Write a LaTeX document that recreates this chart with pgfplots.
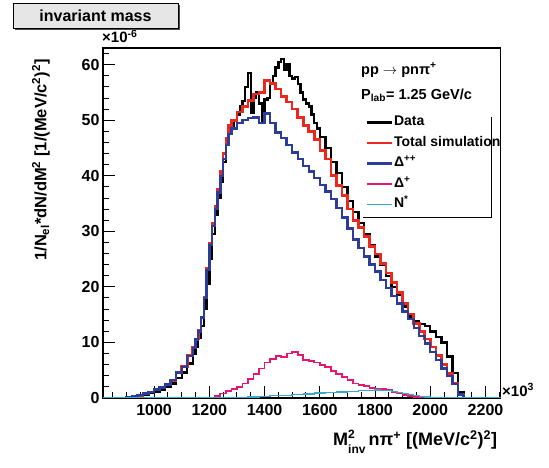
\documentclass[border=0pt]{standalone}
\usepackage{pgfplots}
\pgfplotsset{compat=1.18}
\usepackage{fontspec}
\setmainfont{Liberation Sans}
\definecolor{cRed}{HTML}{EB281E}
\definecolor{cBlue}{HTML}{2B3D99}
\definecolor{cPink}{HTML}{E8166E}
\definecolor{cCyan}{HTML}{3AA8C8}
\definecolor{cGray}{HTML}{E6E6E6}
\begin{document}
\begin{tikzpicture}
\path[use as bounding box] (-103pt,-70pt) rectangle (446pt,398pt);
\begin{axis}[
  scale only axis, width=397.7pt, height=350pt,
  at={(0pt,0pt)}, anchor=south west,
  xmin=815, xmax=2255, ymin=0, ymax=63,
  axis line style={line width=1.1pt},
  tick align=inside,
  major tick length=12pt, minor tick length=6pt,
  every tick/.style={black, line width=1pt},
  xtick={800,1000,...,2400}, minor x tick num=3,
  ytick={0,10,...,70}, minor y tick num=4,
  xtick pos=left, ytick pos=left,
  scaled ticks=false,
  /pgf/number format/assume math mode=true,
  /pgf/number format/1000 sep={},
  ticklabel style={font=\bfseries\fontsize{16}{16}\selectfont},
  xticklabel style={yshift=-3pt},
  xlabel={M\rlap{\raisebox{0.75ex}{\fontsize{12}{12}\selectfont 2}}\raisebox{-0.8ex}{\fontsize{12}{12}\selectfont inv}\,nπ\textsuperscript{+} [(MeV/c\textsuperscript{2})\textsuperscript{2}]},
  xlabel style={font=\bfseries\fontsize{18}{18}\selectfont, at={(axis description cs:1,0)}, anchor=east, yshift=-44pt},
  ylabel={1/N\textsubscript{el}*dN/dM\textsuperscript{2} [1/(MeV/c\textsuperscript{2})\textsuperscript{2}]},
  ylabel style={font=\bfseries\fontsize{16.5}{16.5}\selectfont, at={(axis description cs:-0.156,0.68)}, anchor=center},
  legend style={draw=none, fill=none, at={(rel axis cs:0.652,0.818)}, anchor=north west,
    font=\bfseries\fontsize{14}{14}\selectfont,
    nodes={text height=11pt, text depth=4pt, inner sep=1pt}, row sep=3.5pt},
  legend cell align=left,
  legend image code/.code={\draw[#1] (0pt,0pt) -- (25pt,0pt);},
  const plot,
]
\addplot[black, line width=2.4pt] coordinates {
(815,0) (900,0.1) (920,0.2) (940,0.4) (960,0.6) (980,0.9) (1000,1.2) (1020,1.5) (1040,2.0) (1060,2.6)
(1080,3.6) (1100,4.6) (1120,6.2) (1140,8.0) (1150,9.2) (1160,10.8) (1170,13) (1180,16) (1190,20.5)
(1200,25) (1210,29.5) (1220,33) (1230,36) (1240,39) (1250,42.5) (1260,45.5) (1270,47.5) (1280,48.5)
(1290,50) (1300,51) (1310,52.5) (1320,53.5) (1330,56) (1340,58.5) (1350,51.3)
(1360,54) (1370,55) (1380,53) (1390,49.8) (1400,53.7) (1410,54) (1420,56.5) (1430,58) (1440,59.5)
(1450,60.5) (1460,61) (1470,59) (1480,60) (1490,58) (1500,57.5) (1510,57.8) (1520,56.5) (1530,55)
(1540,53.7) (1550,53) (1560,52.5) (1570,51) (1580,49.5) (1590,48.5) (1600,47) (1620,45) (1640,42.5)
(1660,40.5) (1680,38) (1700,35.5) (1720,33.5) (1740,31.5) (1760,29.5) (1780,27.5) (1800,25.5)
(1820,24) (1840,22) (1860,20) (1880,18.5) (1900,16.5) (1920,14.7) (1940,13.8) (1960,13.3) (1980,13)
(2000,12) (2020,11) (2040,10) (2060,7.5) (2080,4.5) (2100,1.0) (2120,0) (2255,0)};
\addlegendentry{Data}
\addplot[cRed, line width=2.6pt] coordinates {
(815,0) (900,0.1) (920,0.3) (940,0.5) (960,0.8) (980,1.1) (1000,1.5) (1020,1.9) (1040,2.4) (1060,3.2)
(1080,4.7) (1100,5.7) (1120,7.7) (1140,9.1) (1150,10.6) (1160,12.1) (1170,14.6) (1180,18.2) (1190,23.3)
(1200,27.8) (1210,31.4) (1220,34.5) (1230,37.6) (1240,40.8) (1250,44) (1260,46.7) (1270,49) (1280,50)
(1300,51.5) (1320,52.5) (1340,53.6) (1360,54.7) (1380,55) (1400,57.2)
(1420,56.6) (1440,55.6) (1460,54.3) (1480,53.3) (1500,52) (1520,50.5) (1540,49) (1560,48)
(1580,46.5) (1600,44.5) (1620,43) (1640,40) (1660,38.3) (1680,36.5) (1700,34) (1720,32)
(1740,30.7) (1760,29.1) (1780,27.3) (1800,25.9) (1820,24.2) (1840,22.5) (1860,20.8) (1880,19.0)
(1900,17.0) (1920,15.1) (1940,13.4) (1960,12) (1980,10.6) (2000,9.2) (2020,7.6) (2040,6.0)
(2060,4.4) (2080,2.6) (2100,0.7) (2120,0) (2255,0)};
\addlegendentry{Total simulation}
\addplot[cBlue, line width=2.4pt] coordinates {
(815,0) (900,0.1) (920,0.3) (940,0.5) (960,0.8) (980,1.1) (1000,1.5) (1020,1.9) (1040,2.4) (1060,3.2)
(1080,4.6) (1100,5.6) (1120,7.6) (1140,9.0) (1150,10.5) (1160,12) (1170,14.5) (1180,18) (1190,23)
(1200,27.5) (1210,31) (1220,34) (1230,37) (1240,40) (1250,43) (1260,45.5) (1270,47.5) (1280,48.5)
(1300,49.5) (1320,50) (1340,50.4) (1360,50.5) (1380,49.5) (1400,51.2) (1420,49.5)
(1440,47.8) (1460,46.8) (1480,45.5) (1500,44.2) (1520,43) (1540,41.8) (1560,40.8) (1580,39.6)
(1600,38.3) (1620,37.2) (1640,35.8) (1660,34.2) (1680,32.5) (1700,30.5) (1720,28.5) (1740,27)
(1760,25.5) (1780,24) (1800,22.8) (1820,21.2) (1840,19.8) (1860,18.4) (1880,17) (1900,15.6)
(1920,14.2) (1940,12.6) (1960,11.2) (1980,9.8) (2000,8.3) (2020,6.8) (2040,5.3) (2060,4.0)
(2080,2.5) (2100,0.6) (2120,0) (2255,0)};
\addlegendentry{Δ\textsuperscript{++}}
\addplot[cPink, line width=1.8pt] coordinates {
(815,0) (1200,0.1) (1220,0.4) (1240,0.8) (1260,1.2) (1280,1.6) (1300,2.0) (1320,2.6) (1340,3.4)
(1360,4.3) (1380,5.3) (1400,6.4) (1420,7.0) (1440,7.6) (1460,7.4) (1480,8.0) (1500,8.3) (1520,7.8)
(1540,6.9) (1560,6.6) (1580,6.4) (1600,6.0) (1620,5.6) (1640,4.8) (1660,4.3) (1680,3.8) (1700,3.2)
(1720,2.6) (1740,2.4) (1760,2.2) (1780,1.8) (1800,1.7) (1820,1.6) (1840,1.4) (1860,1.1) (1880,0.8)
(1900,0.5) (1920,0.3) (1940,0.15) (1960,0) (2255,0)};
\addlegendentry{Δ\textsuperscript{+}}
\addplot[cCyan, line width=1.4pt] coordinates {
(815,0) (1300,0.1) (1340,0.2) (1380,0.3) (1420,0.4) (1460,0.5) (1500,0.65) (1540,0.75) (1580,0.9)
(1620,1.0) (1660,1.1) (1700,1.2) (1740,1.3) (1780,1.4) (1800,1.45) (1820,1.35) (1860,1.2) (1880,1.0)
(1900,0.8) (1920,0.6) (1940,0.45) (1960,0.3) (1980,0.2) (2000,0.1) (2040,0) (2255,0)};
\addlegendentry{N\textsuperscript{*}}
\end{axis}
% legend frame (right and bottom edges)
\draw[line width=1pt] (388.7pt,281pt) -- (388.7pt,180pt) -- (260pt,180pt);
% process text
\node[anchor=west, font=\bfseries\fontsize{14.5}{14.5}\selectfont, inner sep=0pt] at (258pt,328pt) {pp $\rightarrow$ pnπ\textsuperscript{+}};
\node[anchor=west, font=\bfseries\fontsize{14.5}{14.5}\selectfont, inner sep=0pt] at (258pt,303pt) {P\textsubscript{lab}= 1.25 GeV/c};
% exponents
\node[anchor=south west, font=\bfseries\fontsize{15}{15}\selectfont, inner sep=0pt] at (-1pt,355pt) {×10\textsuperscript{-6}};
\node[anchor=west, font=\bfseries\fontsize{15}{15}\selectfont, inner sep=0pt] at (399pt,8pt) {×10\textsuperscript{3}};
% title box
\fill[black!70] (-88pt,368pt) rectangle (77pt,393pt);
\draw[fill=cGray, line width=0.8pt] (-90pt,370pt) rectangle (75pt,395pt);
\node[font=\bfseries\fontsize{16}{16}\selectfont, inner sep=0pt] at (-7.5pt,382.5pt) {invariant mass};
\end{tikzpicture}
\end{document}
